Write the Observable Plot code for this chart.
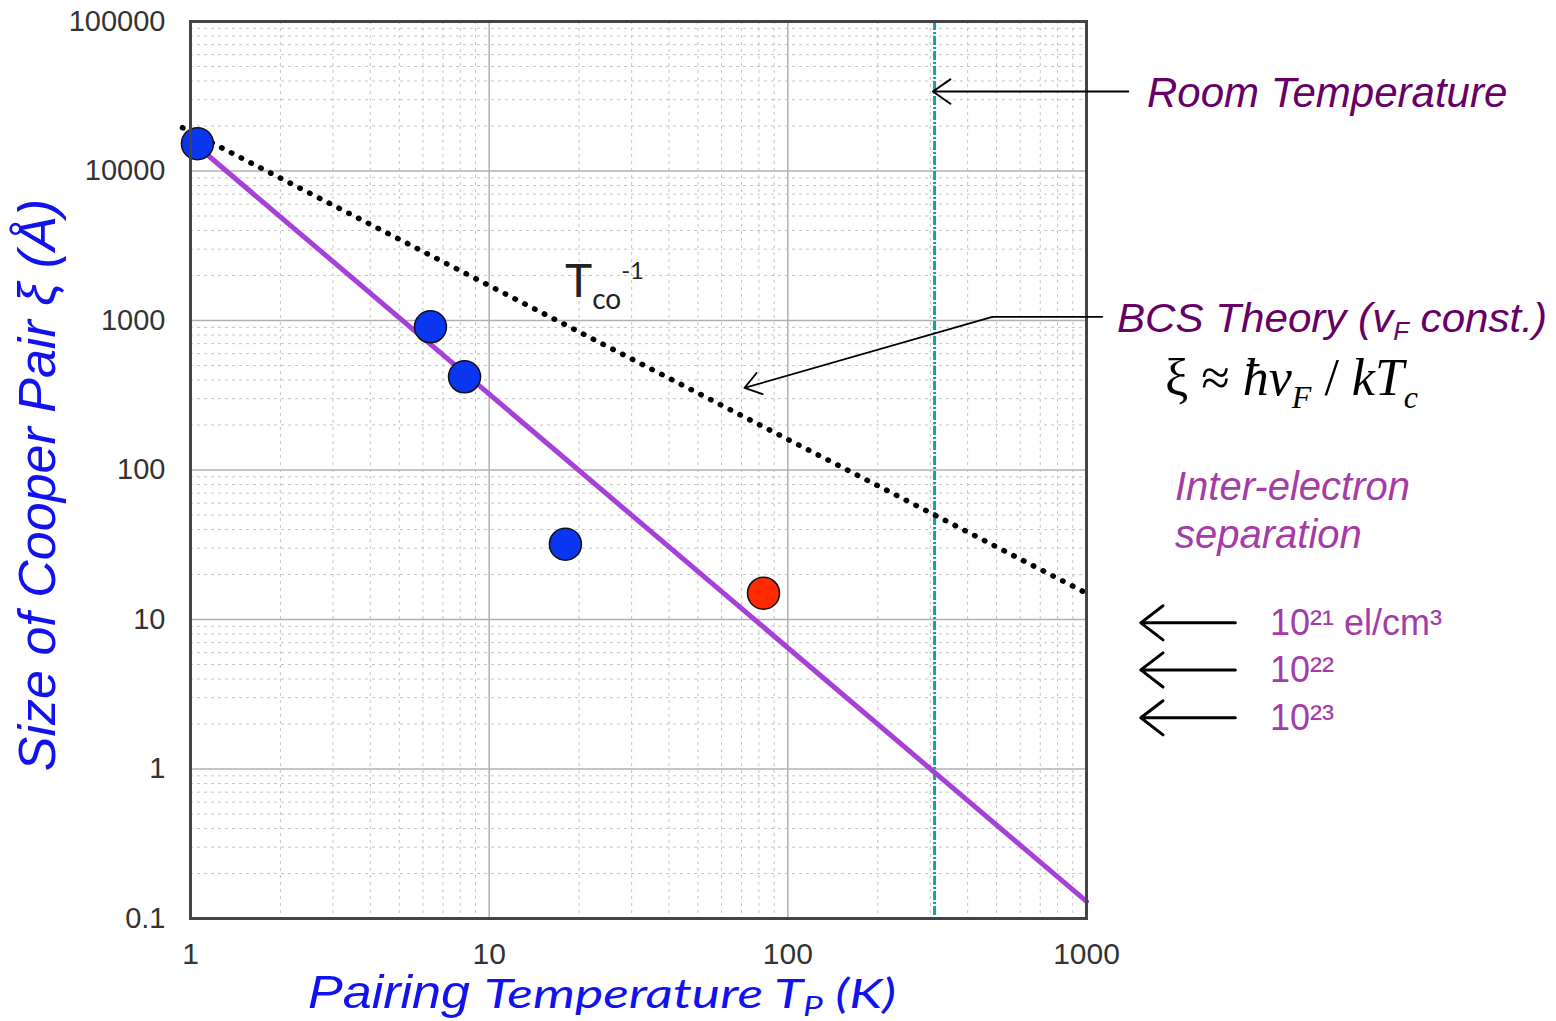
<!DOCTYPE html>
<html>
<head>
<meta charset="utf-8">
<script src="https://cdn.jsdelivr.net/npm/d3@7"></script>
<script src="https://cdn.jsdelivr.net/npm/@observablehq/plot@0.6"></script>
<style>
  html, body { margin: 0; padding: 0; background: #fff; }
  #chart svg { display: block; }
</style>
</head>
<body>
<div id="chart"></div>
<script>
// ---- data ----
const xTicks = [1, 10, 100, 1000];
const yTicks = [0.1, 1, 10, 100, 1000, 10000, 100000];
const minorSteps = [2, 3, 4, 5, 6, 7, 8, 9];

// measured Cooper-pair sizes
const pairT = [1.055, 6.36, 8.27, 18.0, 82.9];
const pairXi = [15240, 907, 420, 31.9, 15.0];
const pairKind = ["blue", "blue", "blue", "blue", "red"];

// BCS theory line (purple)
const bcsT = [1, 1000];
const bcsXi = [16000, 0.13];

// Tco^-1 dotted line
const tcoT = [0.94, 1000];
const tcoXi = [19500, 15];

// room temperature (K)
const roomT = [310];

// inter-electron separation markers (Å) for 10^21, 10^22, 10^23 el/cm^3
const sepXi = [9.5, 4.6, 2.2];
const sepLabels = ["10²¹ el/cm³", "10²²", "10²³"];

// ---- derived tables ----
const points = pairT.map((t, i) => ({t, xi: pairXi[i], kind: pairKind[i]}));
const bcs = bcsT.map((t, i) => ({t, xi: bcsXi[i]}));
const tco = tcoT.map((t, i) => ({t, xi: tcoXi[i]}));
const decadesX = [1, 10, 100];
const minorX = decadesX.flatMap(d => minorSteps.map(m => d * m));
const decadesY = [0.1, 1, 10, 100, 1000, 10000];
const minorY = decadesY.flatMap(d => minorSteps.map(m => d * m));

// annotation arrows (in data coordinates)
const roomArrow = [{x1: 1380, y1: 34000, x2: 306, y2: 34000}];
const bcsLeader = [{t: 1131, xi: 1058}, {t: 484, xi: 1058}];
const bcsArrow = [{x1: 484, y1: 1058, x2: 71.6, y2: 354}];
const sepArrows = sepXi.map(v => ({x1: 3150, y1: v, x2: 1520, y2: v}));

const plot = Plot.plot({
  width: 1556,
  height: 1021,
  marginLeft: 190,
  marginRight: 470,
  marginTop: 21,
  marginBottom: 103,
  style: {background: "#fff", fontFamily: "'Liberation Sans', Arial, sans-serif", color: "#333"},
  x: {type: "log", domain: [1, 1000]},
  y: {type: "log", domain: [0.1, 100000]},
  marks: [
    Plot.ruleX(minorX, {stroke: "#c4c4c4", strokeWidth: 1, strokeDasharray: "3,4"}),
    Plot.ruleY(minorY, {stroke: "#c4c4c4", strokeWidth: 1, strokeDasharray: "3,4"}),
    Plot.ruleX([10, 100], {stroke: "#b0b0b0", strokeWidth: 1.5}),
    Plot.ruleY([1, 10, 100, 1000, 10000], {stroke: "#b0b0b0", strokeWidth: 1.5}),
    Plot.axisX({ticks: xTicks, tickFormat: d => String(d), tickSize: 0, tickPadding: 24, fontSize: 30, label: null, color: "#333"}),
    Plot.axisY({ticks: yTicks, tickFormat: d => String(d), tickSize: 0, tickPadding: 25, fontSize: 29, label: null, color: "#333"}),
    Plot.ruleX(roomT, {stroke: "#1a9e9e", strokeWidth: 3, strokeDasharray: "9,2,2,2"}),
    Plot.line(tco, {x: "t", y: "xi", stroke: "#000", strokeWidth: 5.5, strokeDasharray: "0.5,10.5", strokeLinecap: "round"}),
    Plot.line(bcs, {x: "t", y: "xi", stroke: "#a640d6", strokeWidth: 5}),
    Plot.dot(points, {x: "t", y: "xi", r: 16, fill: d => d.kind === "red" ? "#ff2a00" : "#0a36f2", stroke: "#111", strokeWidth: 1.5}),
    Plot.frame({stroke: "#444", strokeWidth: 3}),
    Plot.arrow(roomArrow, {x1: "x1", y1: "y1", x2: "x2", y2: "y2", stroke: "#000", strokeWidth: 2, headLength: 16, headAngle: 70}),
    Plot.line(bcsLeader, {x: "t", y: "xi", stroke: "#000", strokeWidth: 1.6}),
    Plot.arrow(bcsArrow, {x1: "x1", y1: "y1", x2: "x2", y2: "y2", stroke: "#000", strokeWidth: 1.8, headLength: 16, headAngle: 70}),
    Plot.arrow(sepArrows, {x1: "x1", y1: "y1", x2: "x2", y2: "y2", stroke: "#000", strokeWidth: 3, headLength: 14, headAngle: 75})
  ]
});

document.getElementById("chart").appendChild(plot);

// ---- rich text annotations ----
const svg = d3.select(plot);
const sy = plot.scale("y");
const g = svg.append("g").attr("class", "annotations").attr("text-anchor", "start");

function rich(x, y, parts, base) {
  const t = g.append("text").attr("x", x).attr("y", y).attr("text-anchor", "start");
  for (const [k, v] of Object.entries(base || {})) t.attr(k, v);
  for (const p of parts) {
    const s = t.append("tspan").text(p.t);
    if (p.dy) s.attr("dy", p.dy);
    if (p.size) s.attr("font-size", p.size);
    if (p.style) s.attr("font-style", p.style);
    if (p.family) s.attr("font-family", p.family);
  }
  return t;
}

// x axis label
rich(308, 1008, [{t: "Pairing"}],
  {fill: "#1212ee", "font-style": "italic", "font-size": 46, "font-family": "'Liberation Sans', Arial, sans-serif",
   textLength: 162, lengthAdjust: "spacingAndGlyphs"});
rich(484, 1008, [
  {t: "Temperature T"},
  {t: "P", size: 27, dy: 8},
  {t: " (K)", dy: -8}
], {fill: "#1212ee", "font-style": "italic", "font-size": 41, "font-family": "Lato, 'Open Sans', sans-serif",
    textLength: 412, lengthAdjust: "spacingAndGlyphs"});

// y axis label
g.append("text")
  .attr("transform", "translate(55,485) rotate(-90)")
  .attr("text-anchor", "middle")
  .attr("font-family", "'Liberation Sans', Arial, sans-serif")
  .attr("font-style", "italic")
  .attr("font-size", 52)
  .attr("fill", "#1212ee")
  .text("Size of Cooper Pair ξ (Å)");

// Tco^-1 label
rich(565, 297, [
  {t: "T", size: 46},
  {t: "co", size: 28, dy: 12},
  {t: "-1", size: 24, dy: -30}
], {fill: "#222", "font-family": "Lato, 'Open Sans', sans-serif"});

// Room temperature
rich(1147, 107, [{t: "Room Temperature"}],
  {fill: "#660066", "font-style": "italic", "font-size": 42, "font-family": "'Liberation Sans', Arial, sans-serif"});

// BCS theory
rich(1117, 332, [
  {t: "BCS Theory (v"},
  {t: "F", size: 25, dy: 8},
  {t: " const.)", dy: -8}
], {fill: "#660066", "font-style": "italic", "font-size": 41, "font-family": "'Liberation Sans', Arial, sans-serif",
    textLength: 430, lengthAdjust: "spacingAndGlyphs"});

// formula
rich(1165, 395, [
  {t: "ξ", style: "normal"},
  {t: " ≈ ", style: "normal"},
  {t: "ħv"},
  {t: "F", size: 32, dy: 13},
  {t: " / ", style: "normal", dy: -13},
  {t: "kT"},
  {t: "c", size: 32, dy: 13}
], {fill: "#000", "font-style": "italic", "font-size": 52, "font-family": "'Liberation Serif', 'Times New Roman', serif"});

// inter-electron separation
const sepStyle = {fill: "#a43ca8", "font-style": "italic", "font-size": 40, "font-family": "'Liberation Sans', Arial, sans-serif"};
rich(1175, 500, [{t: "Inter-electron"}], sepStyle);
rich(1175, 548, [{t: "separation"}], sepStyle);
sepXi.forEach((v, i) => {
  rich(1270, sy.apply(v) + 13, [{t: sepLabels[i]}],
    {fill: "#a43ca8", "font-size": 36, "font-family": "'Liberation Sans', Arial, sans-serif"});
});
</script>
</body>
</html>
